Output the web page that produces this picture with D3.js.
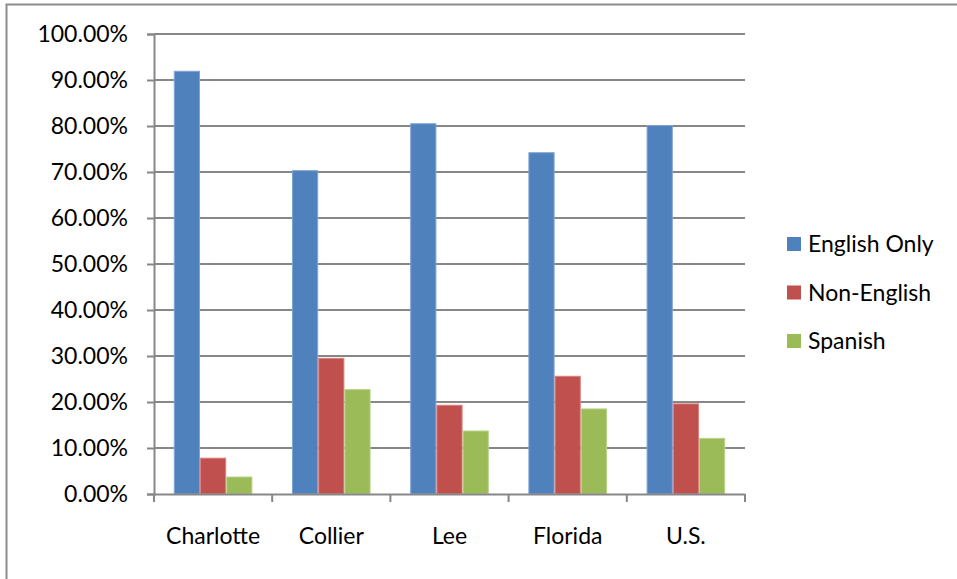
<!DOCTYPE html>
<html>
<head>
<meta charset="utf-8">
<script src="https://cdn.jsdelivr.net/npm/d3@7"></script>
<style>
  body { margin: 0; background: #fff; }
  svg text { font-family: Lato, "Open Sans", sans-serif; fill: #000; }
</style>
</head>
<body>
<div id="chart"></div>
<script>
// data
const regions = ["Charlotte", "Collier", "Lee", "Florida", "U.S."];
const seriesNames = ["English Only", "Non-English", "Spanish"];
const englishOnly = [92.0, 70.4, 80.6, 74.3, 80.2];
const nonEnglish = [7.9, 29.6, 19.4, 25.7, 19.7];
const spanish = [3.8, 22.8, 13.8, 18.6, 12.2];
const yTicks = [0, 10, 20, 30, 40, 50, 60, 70, 80, 90, 100];

const colors = ["#4f81bd", "#c0504d", "#9bbb59"];
const edges = ["#7fa3d3", "#d9827f", "#b9d28a"];

const W = 957, H = 579;
const plot = { left: 154, right: 745, top: 34, bottom: 494 };

const svg = d3.select("#chart").append("svg")
  .attr("width", W).attr("height", H);

// outer chart frame (only top/left visible in the crop)
svg.append("rect")
  .attr("x", 6.5).attr("y", 4.5)
  .attr("width", W + 20).attr("height", H + 20)
  .attr("fill", "none").attr("stroke", "#8c8c8c").attr("stroke-width", 2);

const x = d3.scaleBand().domain(regions)
  .range([plot.left, plot.right])
  .paddingInner(0.335).paddingOuter(0.1675);
const x1 = d3.scaleBand().domain(seriesNames).range([0, x.bandwidth()]);
const y = d3.scaleLinear().domain([0, 100]).range([plot.bottom, plot.top]);

// gridlines
svg.append("g").selectAll("line").data(yTicks.slice(1)).enter().append("line")
  .attr("x1", plot.left).attr("x2", plot.right)
  .attr("y1", d => y(d)).attr("y2", d => y(d))
  .attr("stroke", "#878787").attr("stroke-width", 2);

// bars
const rows = regions.map((r, i) => ({ region: r, vals: [englishOnly[i], nonEnglish[i], spanish[i]] }));
const groups = svg.append("g").selectAll("g").data(rows).enter().append("g")
  .attr("transform", d => "translate(" + x(d.region) + ",0)");
groups.selectAll("rect").data(d => d.vals.map((v, k) => ({ v, k }))).enter().append("rect")
  .attr("x", d => x1(seriesNames[d.k]) + 0.5)
  .attr("y", d => y(d.v) + 0.5)
  .attr("width", x1.bandwidth() - 1)
  .attr("height", d => y(0) - y(d.v) - 0.5)
  .attr("fill", d => colors[d.k])
  .attr("stroke", d => edges[d.k]).attr("stroke-width", 1);

// y axis
const yAxis = svg.append("g")
  .attr("transform", "translate(" + plot.left + ",0)")
  .call(d3.axisLeft(y).tickValues(yTicks).tickSize(7).tickPadding(19)
    .tickFormat(d => d.toFixed(2) + "%"));
yAxis.select(".domain").attr("stroke", "#878787").attr("stroke-width", 2);
yAxis.selectAll(".tick line").attr("stroke", "#878787").attr("stroke-width", 2);
yAxis.selectAll("text").attr("font-size", 23).attr("fill", "#000")
  .attr("font-family", "Lato, sans-serif");

// x axis
const xAxis = svg.append("g")
  .attr("transform", "translate(0," + plot.bottom + ")")
  .call(d3.axisBottom(x).tickSize(0).tickPadding(34));
xAxis.select(".domain").attr("stroke", "#878787").attr("stroke-width", 2);
xAxis.selectAll("text").attr("font-size", 23).attr("fill", "#000")
  .attr("font-family", "Lato, sans-serif");
// category separators
const seps = regions.map(r => x(r) - x.step() * 0.1675).concat([plot.right]);
xAxis.append("g").selectAll("line").data(seps).enter().append("line")
  .attr("x1", d => d).attr("x2", d => d).attr("y1", 0).attr("y2", 8)
  .attr("stroke", "#878787").attr("stroke-width", 2);

// legend
const legend = svg.append("g").attr("transform", "translate(787,244)");
const items = legend.selectAll("g").data(seriesNames).enter().append("g")
  .attr("transform", (d, i) => "translate(0," + i * 48.5 + ")");
items.append("rect").attr("x", 0).attr("y", -7).attr("width", 14).attr("height", 14)
  .attr("fill", (d, i) => colors[i]);
items.append("text").attr("x", 21).attr("y", 0).attr("dy", "0.35em")
  .attr("font-size", 23).text(d => d);
</script>
</body>
</html>
